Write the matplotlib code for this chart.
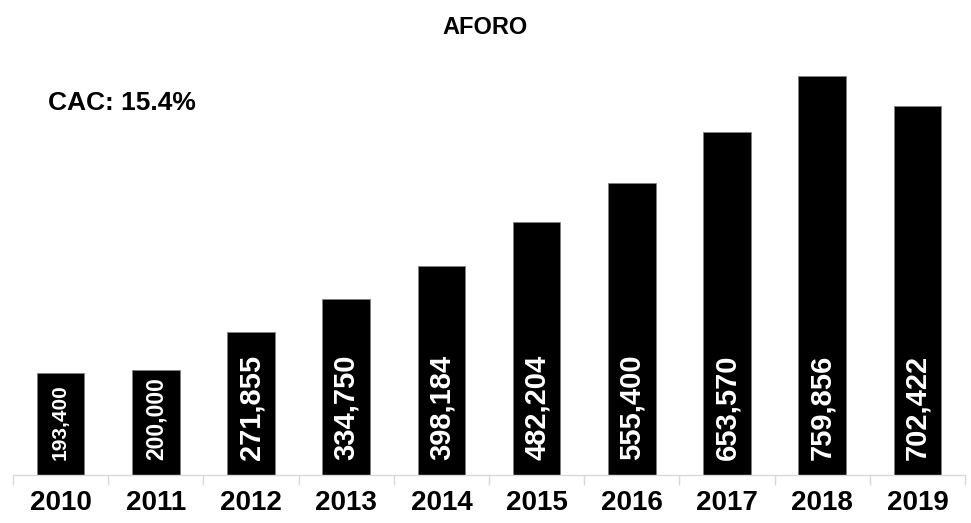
import matplotlib.pyplot as plt
import numpy as np

plt.rcParams['font.family'] = ['Liberation Sans', 'DejaVu Sans']

years = ['2010', '2011', '2012', '2013', '2014', '2015', '2016', '2017', '2018', '2019']
aforo = [193400, 200000, 271855, 334750, 398184, 482204, 555400, 653570, 759856, 702422]
label_sizes = [15, 16.5, 21, 21, 21, 21, 21, 21, 21, 21]

fig = plt.figure(figsize=(9.71, 5.23), dpi=100)
ax = fig.add_axes([13 / 971, 48 / 523, 952 / 971, 420 / 523])

x = np.arange(len(years))
bars = ax.bar(x, aforo, width=0.5, color='black', edgecolor='#7f7f7f', linewidth=0.5)

for xi, v, fs in zip(x, aforo, label_sizes):
    ax.annotate(f'{v:,}', xy=(xi, 0), xytext=(0, 11), textcoords='offset points',
                rotation=90, ha='center', va='bottom', color='white',
                fontsize=fs, fontweight='bold')

ax.set_xlim(-0.5, len(years) - 0.5)
ax.set_ylim(0, 800000)
ax.set_xticks(x)
ax.set_xticklabels(years, fontsize=20, fontweight='bold')
ax.set_xticks(np.arange(-0.5, len(years), 1), minor=True)
ax.tick_params(axis='x', which='major', length=0, pad=11)
ax.tick_params(axis='x', which='minor', length=7, color='#d9d9d9', width=1)
ax.set_yticks([])
for s in ['top', 'right', 'left']:
    ax.spines[s].set_visible(False)
ax.spines['bottom'].set_color('#d9d9d9')
ax.spines['bottom'].set_linewidth(1)

fig.text(0.5, 1 - 28 / 523, 'AFORO', ha='center', va='center', fontsize=17, fontweight='bold')
fig.text(48 / 971, 1 - 103 / 523, 'CAC: 15.4%', ha='left', va='center', fontsize=19, fontweight='bold')

fig.savefig('out.png', dpi=100)
